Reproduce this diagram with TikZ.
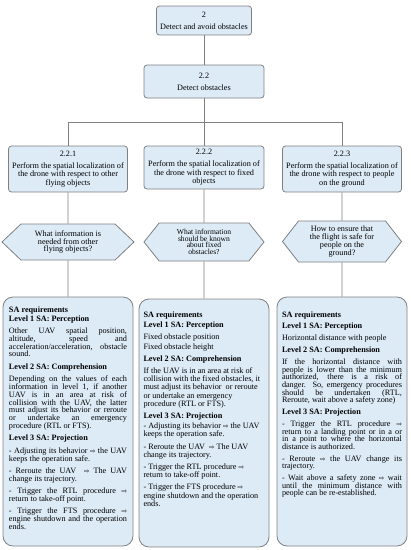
\documentclass[tikz,border=0pt]{standalone}
\usepackage{fontspec}
\setmainfont{Liberation Serif}
\newfontfamily\arrowfont{DejaVu Sans}
\usepackage{tikz}
\usetikzlibrary{shapes.symbols}

\definecolor{boxblue}{RGB}{221,235,247}
\definecolor{linegray}{RGB}{128,128,128}
\newcommand{\thenarrow}{{\arrowfont\fontsize{6.5}{6}\selectfont ⇨}}
\newcommand{\boxfont}[2]{\fontsize{8.2}{#1}\selectfont\setlength{\parskip}{#2}\hyphenpenalty=10000\relax}

\begin{document}
\lineskiplimit=-10pt\relax
\begin{tikzpicture}[x=1pt,y=-1pt,
  task/.style={draw=linegray, fill=boxblue, line width=0.8pt, rounded corners=3pt, align=center, inner sep=1pt, font=\fontsize{8.2}{8.5}\selectfont},
  question/.style={draw=linegray, fill=boxblue, line width=0.8pt, shape=signal, signal to=west and east, align=center, inner sep=1pt, font=\fontsize{8.2}{7.6}\selectfont},
  req/.style={draw=linegray, fill=boxblue, line width=0.8pt, rounded corners=10pt, inner xsep=6pt, inner ysep=0pt},
  link/.style={draw=linegray, line width=0.9pt}]
\useasboundingbox (0,0) rectangle (411,550);

% task tree
\node[task, minimum width=95pt, minimum height=29pt, font=\fontsize{8.2}{12}\selectfont] (t2) at (204,20.5) {2\\Detect and avoid obstacles};
\node[task, minimum width=120pt, minimum height=33pt, font=\fontsize{8.2}{12}\selectfont] (t22) at (204,81.5) {2.2\\Detect obstacles};
\coordinate (bus) at (204,122);

\node[task, minimum width=119pt, minimum height=46pt] (t221) at (68,169) {2.2.1\\[3.5pt]Perform the spatial localization of\\the drone with respect to other\\flying objects};
\node[task, minimum width=120pt, minimum height=43pt] (t222) at (204,167.5) {2.2.2\\[3.5pt]Perform the spatial localization of\\the drone with respect to fixed\\objects};
\node[task, minimum width=119pt, minimum height=46pt] (t223) at (342,169) {2.2.3\\[3.5pt]Perform the spatial localization of\\the drone with respect to people\\on the ground};

% questions
\node[question, minimum width=132pt, minimum height=36pt, signal pointer angle=87] (qA) at (68,242) {What information is\\needed from other\\flying objects?};
\node[question, minimum width=120pt, minimum height=38pt, signal pointer angle=103, font=\fontsize{7.6}{6.5}\selectfont] (qB) at (204,242) {What information\\should be known\\about fixed\\obstacles?};
\node[question, minimum width=119pt, minimum height=41pt, signal pointer angle=104, font=\fontsize{8.2}{8.3}\selectfont] (qC) at (342,241.5) {How to ensure that\\the flight is safe for\\people on the\\ground?};

% SA requirements
\node[req] (reqA) at (68,421.5) {\parbox[c][249pt][t]{118pt}{\boxfont{7.9pt}{4.3pt}\vspace*{5.1pt}%
\textbf{SA requirements}\\[1.1pt]
\textbf{Level 1 SA: Perception}\par
Other UAV spatial position,\linebreak altitude, speed and\linebreak acceleration/acceleration, obstacle\linebreak sound.\par
\textbf{Level 2 SA: Comprehension}\par
Depending on the values of each\linebreak information in level 1, if another\linebreak UAV is in an area at risk of\linebreak collision with the UAV, the latter\linebreak must adjust its behavior or reroute\linebreak or undertake an emergency\linebreak procedure (RTL or FTS).\par
\textbf{Level 3 SA: Projection}\par
- Adjusting its behavior \thenarrow{} the UAV\linebreak keeps the operation safe.\par
- Reroute the UAV~ \thenarrow{} The UAV\linebreak change its trajectory.\par
- Trigger the RTL procedure \thenarrow\linebreak return to take-off point.\par
- Trigger the FTS procedure \thenarrow\linebreak engine shutdown and the operation\linebreak ends.}};

\node[req, inner xsep=4.5pt] (reqB) at (204,423) {\parbox[c][248pt][t]{121pt}{\boxfont{8.3pt}{3.8pt}\raggedright\vspace*{8.6pt}%
\textbf{SA requirements}\\[1.7pt]
\textbf{Level 1 SA: Perception}\par
Fixed obstacle position\\[1.7pt]
Fixed obstacle height\par
\textbf{Level 2 SA: Comprehension}\par
If the UAV is in an area at risk of\\ collision with the fixed obstacles, it\\ must adjust its behavior~ or reroute\\ or undertake an emergency\\ procedure (RTL or FTS).\par
\textbf{Level 3 SA: Projection}\\[1.7pt]
- Adjusting its behavior \thenarrow{} the UAV\\ keeps the operation safe.\par
- Reroute the UAV~ \thenarrow{} The UAV\\ change its trajectory.\par
- Trigger the RTL procedure \thenarrow\\ return to take-off point.\par
- Trigger the FTS procedure \thenarrow\\ engine shutdown and the operation\\ ends.}};

\node[req, inner xsep=5pt] (reqC) at (342,421.5) {\parbox[c][249pt][t]{120pt}{\boxfont{7.6pt}{4.3pt}\vspace*{10.1pt}%
\textbf{SA requirements}\par
\textbf{Level 1 SA: Perception}\par
Horizontal distance with people\par
\textbf{Level 2 SA: Comprehension}\par
If the horizontal distance with\linebreak people is lower than the minimum\linebreak authorized, there is a risk of\linebreak danger. So, emergency procedures\linebreak should be undertaken (RTL,\linebreak Reroute, wait above a safety zone)\par
\textbf{Level 3 SA: Projection}\par
- Trigger the RTL procedure \thenarrow\linebreak return to a landing point or in a or\linebreak in a point to where the horizontal\linebreak distance is authorized.\par
- Reroute \thenarrow{} the UAV change its\linebreak trajectory.\par
- Wait above a safety zone \thenarrow{} wait\linebreak until the minimum distance with\linebreak people can be re-established.}};

% connectors
\draw[link] (t2) -- (t22);
\draw[link] (t22) -- (bus);
\draw[link] (bus) -| (t221);
\draw[link] (bus) -- (t222);
\draw[link] (bus) -| (t223);
\draw[link] (t221) -- (qA);
\draw[link] (t222) -- (qB);
\draw[link] (t223) -- (qC);
\draw[link] (qA) -- (reqA);
\draw[link] (qB) -- (reqB);
\draw[link] (qC) -- (reqC);
\end{tikzpicture}
\end{document}
